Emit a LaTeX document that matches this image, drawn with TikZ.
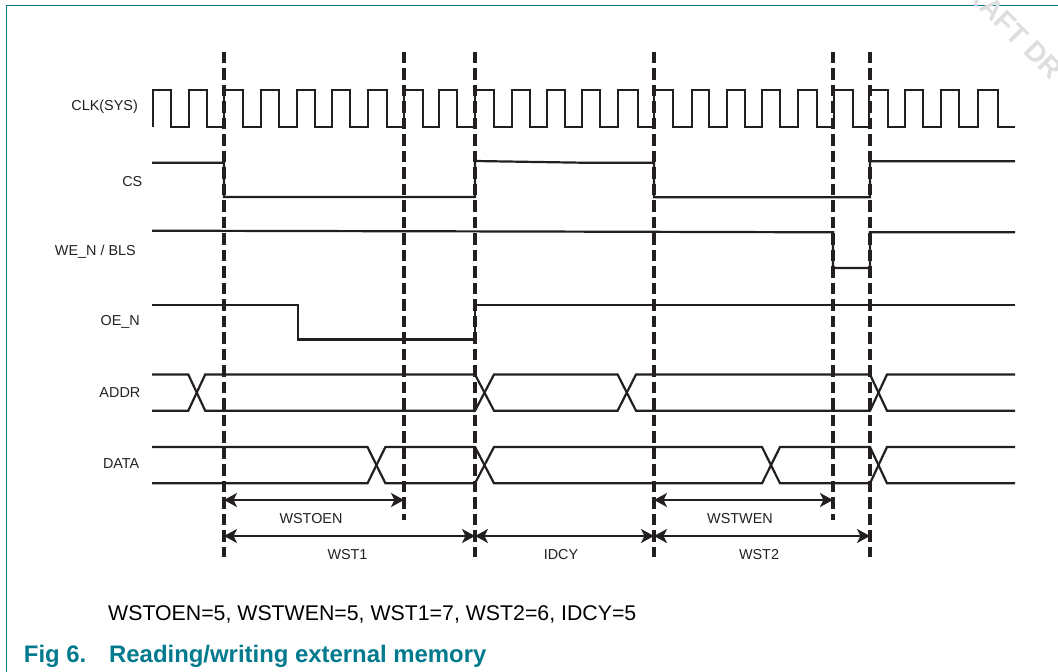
\documentclass[tikz,border=0pt]{standalone}
\usepackage{fontspec}
\setmainfont{Liberation Sans}
\usetikzlibrary{arrows.meta}
\definecolor{nxpteal}{HTML}{007A8C}
\definecolor{wave}{HTML}{231F20}
\definecolor{wmark}{HTML}{DEDEDE}
\tikzset{
  sig/.style={draw=wave,line width=2.2pt,line cap=butt,line join=miter},
  guide/.style={draw=wave,line width=3.6pt,dash pattern=on 11.5pt off 5pt,line cap=butt},
  span/.style={draw=wave,line width=2pt,{Stealth[length=13pt,width=14pt,inset=3.5pt]}-{Stealth[length=13pt,width=14pt,inset=3.5pt]}},
  lab/.style={font=\fontsize{14.4}{16}\selectfont,text=wave,inner sep=0pt},
  foot/.style={font=\fontsize{21.3}{24}\selectfont,text=black,inner sep=0pt,anchor=west},
  figcap/.style={font=\fontsize{23.9}{27}\selectfont\bfseries,text=nxpteal,inner sep=0pt,anchor=west}
}
\begin{document}
\begin{tikzpicture}[x=1pt,y=-1pt]
\useasboundingbox (0,0) rectangle (1058,672);
% frame
\draw[nxpteal,line width=1.4pt] (6.5,672) -- (6.5,5.7) -- (1058,5.7);
% watermark
\begin{scope}
\clip (0,0) rectangle (1058,672);
\node[rotate=-45,text=wmark,font=\fontsize{28}{32}\selectfont\bfseries,inner sep=0pt] (wm) at (1014,31) {RAFT DR};
\end{scope}
% guide coordinates
\foreach \n/\x/\e in {a/224/556.7,b/404/520,c/475/556.7,d/654/556.7,e/833/520,f/870/556.7}{
  \coordinate (\n-top) at (\x,51.7);
  \coordinate (\n-end) at (\x,\e);
  \coordinate (\n-s) at (\x,500);
  \coordinate (\n-l) at (\x,536);
  \draw[guide] (\n-top) -- (\n-end);
}
% labels
\node[lab,anchor=east] (lclk) at (138,107) {CLK(SYS)};
\node[lab,anchor=east] (lcs) at (142.5,181.5) {CS};
\node[lab,anchor=east] (lwe) at (136,252) {WE\_N / BLS};
\node[lab,anchor=east] (loe) at (140,322) {OE\_N};
\node[lab,anchor=east] (lad) at (140.5,392.7) {ADDR};
\node[lab,anchor=east] (lda) at (139.5,464) {DATA};
% clock
\draw[sig] (152.7,127) |- (170.7,90) |- (189.3,127) |- (206.7,90) |- (224,127) |- (242.7,90)
 |- (260.7,127) |- (279,90) |- (296.7,127) |- (315,90) |- (331.7,127) |- (350,90) |- (368.3,127) |- (387.3,90)
 |- (404,127) |- (423.3,90) |- (439,127) |- (457.3,90) |- (475,127) |- (494.3,90) |- (511.7,127) |- (530,90)
 |- (546.7,127) |- (565,90) |- (581.7,127) |- (600,90) |- (618.3,127) |- (637.7,90) |- (654,127) |- (673.3,90)
 |- (691.7,127) |- (709.3,90) |- (726.7,127) |- (745,90) |- (761.7,127) |- (780,90) |- (798.3,127) |- (817.3,90)
 |- (834,127) |- (852.7,90) |- (869.3,127) |- (887.7,90) |- (905,127) |- (923.3,90) |- (941,127) |- (959.3,90)
 |- (978.3,127) |- (997.7,90) |- (1015,127);
% CS
\draw[sig] (152,162.7) -- (224,162.7) -- (224,197) -- (475,197) -- (475,161) -- (582,162.7) -- (654,162.7) -- (654,197.3) -- (870,197.3) -- (870,161.3) -- (1015,161.3);
% WE_N / BLS
\draw[sig] (152,230.7) -- (528,231.5) -- (833,232.3) -- (833,268) -- (870,268) -- (870,232.3) -- (1015,232.3);
% OE_N
\draw[sig] (152,304.7) -- (298,304.7) -- (298,339.5) -- (475,339.5) -- (475,304.7) -- (1015,304.7);
% ADDR
\draw[sig] (152,374.5) -- (188.3,374.5) -- (205.2,410.7) -- (475,410.7) -- (494,374.5) -- (617.6,374.5) -- (636,410.7) -- (870,410.7) -- (887,374.5) -- (1015,374.5);
\draw[sig] (152,410.7) -- (188.3,410.7) -- (205.2,374.5) -- (475,374.5) -- (494,410.7) -- (617.6,410.7) -- (636,374.5) -- (870,374.5) -- (887,410.7) -- (1015,410.7);
% DATA
\draw[sig] (152,447) -- (367.5,447) -- (385.4,483.3) -- (475,483.3) -- (494,447) -- (762,447) -- (780,483.3) -- (870,483.3) -- (887,447) -- (1015,447);
\draw[sig] (152,483.3) -- (367.5,483.3) -- (385.4,447) -- (475,447) -- (494,483.3) -- (762,483.3) -- (780,447) -- (870,447) -- (887,483.3) -- (1015,483.3);
% spans
\draw[span] (a-s) -- (b-s);
\draw[span] (d-s) -- (e-s);
\draw[span] (a-l) -- (c-l);
\draw[span] (c-l) -- (d-l);
\draw[span] (d-l) -- (f-l);
\node[lab] (twstoen) at (311,518.5) {WSTOEN};
\node[lab] (twst1) at (347.5,554.5) {WST1};
\node[lab] (tidcy) at (561,554.5) {IDCY};
\node[lab] (twstwen) at (740,518.5) {WSTWEN};
\node[lab] (twst2) at (759,554.5) {WST2};
% footer
\node[foot] (fnote) at (108,614) {WSTOEN=5, WSTWEN=5, WST1=7, WST2=6, IDCY=5};
\node[figcap] (fignum) at (23.7,656) {Fig 6.};
\node[figcap] (figtitle) at (109,656) {Reading/writing external memory};
\end{tikzpicture}
\end{document}
